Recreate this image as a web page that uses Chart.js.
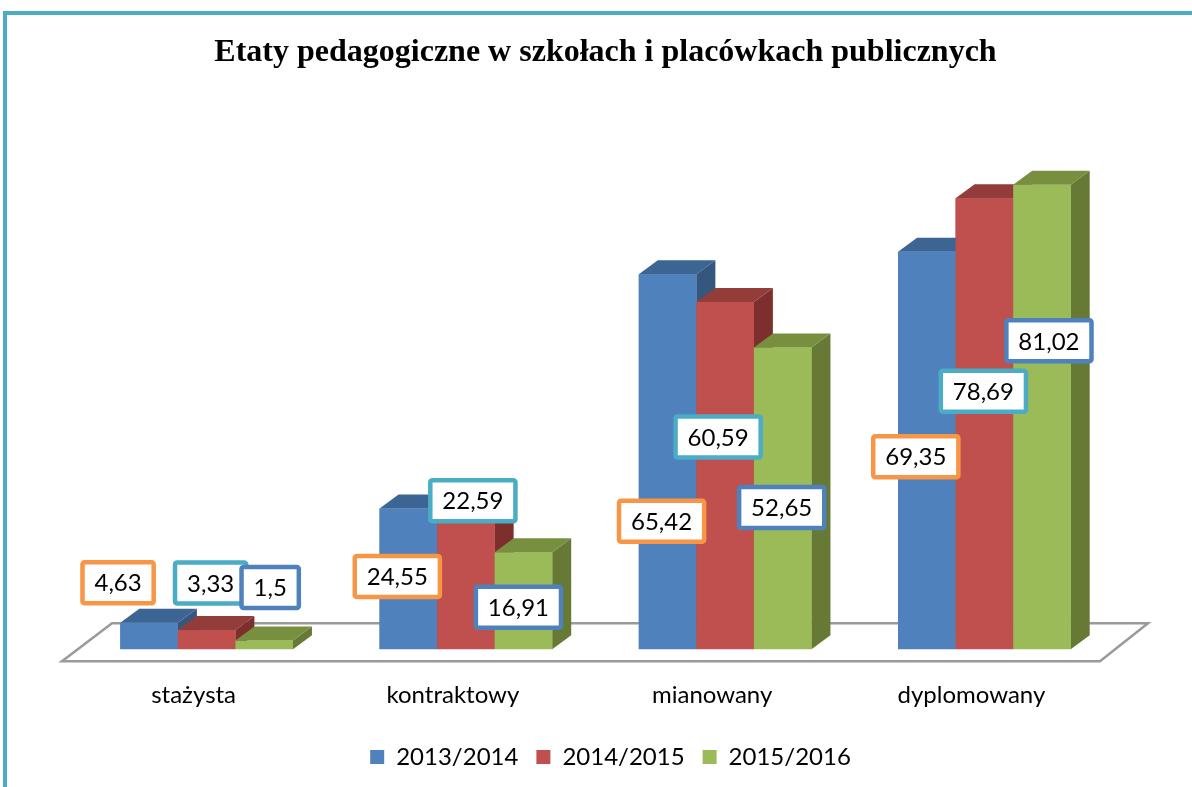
<!DOCTYPE html>
<html lang="pl">
<head>
  <meta charset="UTF-8">
  <title>Etaty pedagogiczne w szkołach i placówkach publicznych</title>
  <script src="https://cdn.jsdelivr.net/npm/chart.js"></script>
  <style>
    body {
      margin: 0;
      background: #fff;
    }
    .frame {
      position: relative;
      width: 1192px;
      height: 787px;
    }
    .frame::before {
      content: '';
      position: absolute;
      left: 3px;
      top: 11px;
      right: 0;
      bottom: 0;
      border-left: 4px solid #4BACC6;
      border-top: 4px solid #4BACC6;
    }
    #chart {
      position: absolute;
      left: 0;
      top: 0;
    }
  </style>
</head>
<body>
  <div class="frame">
    <canvas id="chart" width="1192" height="787"></canvas>
  </div>

  <script>
    const categories = ['stażysta', 'kontraktowy', 'mianowany', 'dyplomowany'];
    const seriesNames = ['2013/2014', '2014/2015', '2015/2016'];
    const values2013 = [4.63, 24.55, 65.42, 69.35];
    const values2014 = [3.33, 22.59, 60.59, 78.69];
    const values2015 = [1.5, 16.91, 52.65, 81.02];

    // face colours: front / top / side, and the frame colour of each series' value box
    const frontColors = ['#4F81BD', '#C0504D', '#9BBB59'];
    const topColors = ['#3D6594', '#933D3A', '#778F3F'];
    const sideColors = ['#34567F', '#7D2F2D', '#667A35'];
    const boxColors = ['#F79646', '#4BACC6', '#4F81BD'];

    // value boxes were dragged by hand in the original: offset (px) from the top centre of each bar
    const boxOffsets = [
      [[-31, -40], [-11, 68], [-6, 247], [-11, 205]],
      [[4, -47], [7, -19], [-7, 135], [-1, 193]],
      [[6, -53], [-5, 55], [-1, 160], [7, 156]]
    ];

    const DEPTH_X = 19, DEPTH_Y = 14;
    const labelFont = '24px Lato';

    const fmt = v => String(v).replace('.', ',');

    function poly(ctx, pts, fill) {
      ctx.beginPath();
      ctx.moveTo(pts[0][0], pts[0][1]);
      for (let i = 1; i < pts.length; i++) ctx.lineTo(pts[i][0], pts[i][1]);
      ctx.closePath();
      ctx.fillStyle = fill;
      ctx.fill();
    }

    // the original sits a little right of centre (frame on the left)
    const nudge = {
      id: 'nudge',
      afterLayout(chart) {
        chart.titleBlock.left += 20;
        chart.legend.left += 30;
      }
    };

    const bars3d = {
      id: 'bars3d',
      beforeDatasetsDraw(chart) {
        const { ctx, chartArea } = chart;
        const base = chart.scales.y.getPixelForValue(0);
        const front = base + 12, back = base - 26;
        ctx.save();
        ctx.beginPath();
        ctx.moveTo(chartArea.left - 15, front);
        ctx.lineTo(chartArea.right - 14, front);
        ctx.lineTo(chartArea.right + 34, back);
        ctx.lineTo(chartArea.left + 35, back);
        ctx.closePath();
        ctx.fillStyle = '#fff';
        ctx.fill();
        ctx.strokeStyle = '#9A9A9A';
        ctx.lineWidth = 2.5;
        ctx.stroke();
        ctx.restore();
      },
      afterDatasetsDraw(chart) {
        const { ctx } = chart;
        ctx.save();
        // bars: category by category so each front hides the previous side face
        for (let i = 0; i < categories.length; i++) {
          for (let d = 0; d < chart.data.datasets.length; d++) {
            const el = chart.getDatasetMeta(d).data[i];
            const l = el.x - el.width / 2, r = el.x + el.width / 2;
            const t = el.y, b = el.base;
            poly(ctx, [[r, t], [r + DEPTH_X, t - DEPTH_Y], [r + DEPTH_X, b - DEPTH_Y], [r, b]], sideColors[d]);
            poly(ctx, [[l, t], [l + DEPTH_X, t - DEPTH_Y], [r + DEPTH_X, t - DEPTH_Y], [r, t]], topColors[d]);
            ctx.fillStyle = frontColors[d];
            ctx.fillRect(l, t, r - l, b - t);
          }
        }
        // value boxes
        ctx.font = labelFont;
        ctx.textAlign = 'center';
        ctx.textBaseline = 'middle';
        for (let d = 0; d < chart.data.datasets.length; d++) {
          chart.getDatasetMeta(d).data.forEach((el, i) => {
            const txt = fmt(chart.data.datasets[d].data[i]);
            const cx = el.x + boxOffsets[d][i][0];
            const cy = el.y + boxOffsets[d][i][1];
            const w = ctx.measureText(txt).width + 24, h = 41;
            ctx.beginPath();
            ctx.roundRect(cx - w / 2, cy - h / 2, w, h, 2);
            ctx.fillStyle = '#fff';
            ctx.fill();
            ctx.lineWidth = 4.5;
            ctx.strokeStyle = boxColors[d];
            ctx.stroke();
            ctx.fillStyle = '#000';
            ctx.fillText(txt, cx, cy + 1);
          });
        }
        ctx.restore();
      }
    };

    new Chart(document.getElementById('chart'), {
      type: 'bar',
      data: {
        labels: categories,
        datasets: [
          { label: seriesNames[0], data: values2013, backgroundColor: frontColors[0] },
          { label: seriesNames[1], data: values2014, backgroundColor: frontColors[1] },
          { label: seriesNames[2], data: values2015, backgroundColor: frontColors[2] }
        ]
      },
      options: {
        responsive: false,
        animation: false,
        layout: { padding: { left: 77, right: 78, top: 18, bottom: 8 } },
        datasets: { bar: { categoryPercentage: 0.666, barPercentage: 1.0 } },
        scales: {
          x: {
            grid: { display: false, drawTicks: false },
            border: { display: false },
            ticks: { color: '#000', font: { family: 'Lato', size: 24 }, padding: 32, labelOffset: -13 },
            afterFit(scale) { scale.height -= 15; }
          },
          y: { display: false, min: 0, max: 90 }
        },
        plugins: {
          title: {
            display: true,
            text: 'Etaty pedagogiczne w szkołach i placówkach publicznych',
            color: '#000',
            font: { family: 'Liberation Serif', size: 32, weight: 'bold' },
            padding: { top: 16, bottom: 61 }
          },
          legend: {
            position: 'bottom',
            labels: { color: '#000', font: { family: 'Lato', size: 24 }, boxWidth: 14, boxHeight: 14, padding: 18 }
          },
          tooltip: { enabled: false }
        }
      },
      plugins: [nudge, bars3d]
    });
  </script>
</body>
</html>
